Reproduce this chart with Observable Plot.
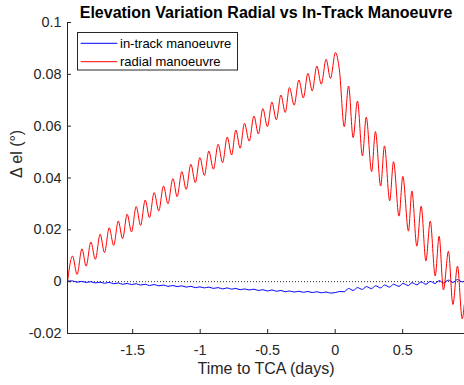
<!DOCTYPE html>
<html><head><meta charset="utf-8">
<script src="https://cdn.jsdelivr.net/npm/d3@7"></script>
<script src="https://cdn.jsdelivr.net/npm/@observablehq/plot@0.6"></script>
<style>
html,body{margin:0;padding:0;background:#fff;}
#chart{width:464px;height:385px;}
</style></head><body><div id="chart"></div>
<script>
const titleText = "Elevation Variation Radial vs In-Track Manoeuvre";
const xLabel = "Time to TCA (days)";
const yLabel = "Δ el (°)";
const seriesNames = ["in-track manoeuvre", "radial manoeuvre"];
const seriesColors = ["#0000ff", "#ff0000"];
const xTicks = [-1.5, -1, -0.5, 0, 0.5];
const xTickLabels = ["-1.5", "-1", "-0.5", "0", "0.5"];
const yTicks = [-0.02, 0, 0.02, 0.04, 0.06, 0.08, 0.1];
const yTickLabels = ["-0.02", "0", "0.02", "0.04", "0.06", "0.08", "0.1"];
const xDomain = [-1.983, 0.958];
const yDomain = [-0.02, 0.1];
const zeroLine = [0];

// times (days) of the read-off turning points
const timeDays = [
  -1.983, -1.946, -1.912, -1.876, -1.845, -1.810, -1.777, -1.741, -1.709, -1.674,
  -1.641, -1.607, -1.575, -1.541, -1.509, -1.474, -1.442, -1.407, -1.376, -1.341,
  -1.307, -1.272, -1.239, -1.202, -1.171, -1.136, -1.104, -1.069, -1.036, -1.002,
  -0.969, -0.936, -0.902, -0.867, -0.834, -0.800, -0.767, -0.736, -0.704, -0.672,
  -0.637, -0.602, -0.569, -0.536, -0.502, -0.469, -0.436, -0.402, -0.370, -0.339,
  -0.304, -0.269, -0.236, -0.202, -0.170, -0.136, -0.103, -0.067, -0.035, 0.002,
  0.032, 0.067, 0.099, 0.133, 0.165, 0.202, 0.230, 0.270, 0.298, 0.337,
  0.365, 0.404, 0.432, 0.473, 0.501, 0.543, 0.568, 0.605, 0.637, 0.672,
  0.704, 0.741, 0.770, 0.802, 0.839, 0.872, 0.906, 0.941, 0.956
];

// radial manoeuvre (red)
const radialV = [
  0, 0.0099, 0.0028, 0.0127, 0.0060, 0.0153, 0.0086, 0.0183, 0.0112, 0.0208,
  0.0140, 0.0234, 0.0166, 0.0260, 0.0192, 0.0290, 0.0217, 0.0315, 0.0247, 0.0344,
  0.0273, 0.0369, 0.0301, 0.0398, 0.0328, 0.0425, 0.0356, 0.0453, 0.0382, 0.0479,
  0.0410, 0.0504, 0.0434, 0.0530, 0.0459, 0.0558, 0.0489, 0.0585, 0.0515, 0.0611,
  0.0542, 0.0639, 0.0570, 0.0668, 0.0598, 0.0693, 0.0625, 0.0720, 0.0653, 0.0749,
  0.0681, 0.0778, 0.0709, 0.0804, 0.0736, 0.0832, 0.0762, 0.0858, 0.0784, 0.0884,
  0.0813, 0.0598, 0.0755, 0.0556, 0.0697, 0.0485, 0.0635, 0.0425, 0.0579, 0.0369,
  0.0524, 0.0312, 0.0463, 0.0253, 0.0406, 0.0195, 0.0350, 0.0137, 0.0291, 0.0080,
  0.0234, 0.0022, 0.0175, -0.0032, 0.0117, -0.0088, 0.0060, -0.0143, -0.0090
];

// in-track manoeuvre (blue)
const inTrackV = [
  0.0002, 0.0003, -0.0002, 0.0001, -0.0003, 0.0000, -0.0005, -0.0002, -0.0006, -0.0003,
  -0.0008, -0.0005, -0.0010, -0.0007, -0.0011, -0.0008, -0.0013, -0.0010, -0.0015, -0.0011,
  -0.0016, -0.0013, -0.0018, -0.0015, -0.0019, -0.0016, -0.0021, -0.0018, -0.0023, -0.0020,
  -0.0024, -0.0021, -0.0026, -0.0023, -0.0028, -0.0024, -0.0029, -0.0026, -0.0031, -0.0028,
  -0.0032, -0.0029, -0.0034, -0.0031, -0.0036, -0.0032, -0.0037, -0.0034, -0.0039, -0.0036,
  -0.0040, -0.0037, -0.0041, -0.0038, -0.0042, -0.0039, -0.0043, -0.0040, -0.0044, -0.0042,
  -0.0038, -0.0039, -0.0026, -0.0034, -0.0023, -0.0030, -0.0019, -0.0027, -0.0016, -0.0024,
  -0.0013, -0.0021, -0.0010, -0.0018, -0.0007, -0.0015, -0.0004, -0.0012, -0.0001, -0.0010,
  0.0001, -0.0007, 0.0004, -0.0005, 0.0006, -0.0003, 0.0008, -0.0001, 0.0003
];

const inTrack = timeDays.map((t, i) => ({t, v: inTrackV[i]}));
const radial = timeDays.map((t, i) => ({t, v: radialV[i]}));

const legendMark = (index, scales, values, dims) => {
  const g = d3.create("svg:g");
  const x0 = dims.marginLeft + 10, y0 = dims.marginTop + 10;
  g.append("rect").attr("x", x0 + 0.5).attr("y", y0 + 0.5)
    .attr("width", 160).attr("height", 37.5)
    .attr("fill", "#fff").attr("stroke", "#262626").attr("stroke-width", 1);
  seriesNames.forEach((name, i) => {
    const cy = y0 + 11.3 + i * 18.4;
    g.append("line").attr("x1", x0 + 3.7).attr("x2", x0 + 40.3)
      .attr("y1", cy).attr("y2", cy)
      .attr("stroke", seriesColors[i]).attr("stroke-width", 1);
    g.append("text").attr("x", x0 + 43).attr("y", cy + 4.5)
      .attr("text-anchor", "start")
      .attr("font-size", 13).attr("fill", "#000").text(name);
  });
  return g.node();
};

const plot = Plot.plot({
  width: 464, height: 385,
  marginLeft: 67, marginRight: 0, marginTop: 22, marginBottom: 52,
  style: {fontFamily: "'Liberation Sans', Arial, Helvetica, sans-serif", fontSize: "14.4px", color: "#262626", background: "#fff", overflow: "visible"},
  x: {domain: xDomain},
  y: {domain: yDomain},
  marks: [
    Plot.ruleY(zeroLine, {stroke: "#262626", strokeDasharray: "1,2", strokeWidth: 1}),
    Plot.line(inTrack, {x: "t", y: "v", stroke: seriesColors[0], strokeWidth: 1, curve: "monotone-x"}),
    Plot.line(radial, {x: "t", y: "v", stroke: seriesColors[1], strokeWidth: 1, curve: "monotone-x"}),
    Plot.ruleX([xDomain[0]], {stroke: "#262626"}),
    Plot.ruleY([yDomain[0]], {stroke: "#262626"}),
    Plot.axisX({ticks: xTicks, tickSize: -4, tickPadding: 15, tickFormat: d => xTickLabels[xTicks.indexOf(d)], label: null, fontSize: 14.4}),
    Plot.axisY({ticks: yTicks, tickSize: -4, tickPadding: 10, tickFormat: d => yTickLabels[yTicks.indexOf(d)], label: null, fontSize: 14.4}),
    Plot.text([titleText], {text: d => d, frameAnchor: "top", lineAnchor: "bottom", dy: -4.5, fontWeight: "bold", fontSize: 16, fill: "#000"}),
    Plot.text([xLabel], {text: d => d, frameAnchor: "bottom", lineAnchor: "bottom", dy: 40, fontSize: 16}),
    Plot.text([yLabel], {text: d => d, frameAnchor: "left", rotate: -90, lineAnchor: "bottom", dx: -45.7, fontSize: 16}),
    legendMark
  ]
});
document.getElementById("chart").appendChild(plot);
</script>
</body></html>
